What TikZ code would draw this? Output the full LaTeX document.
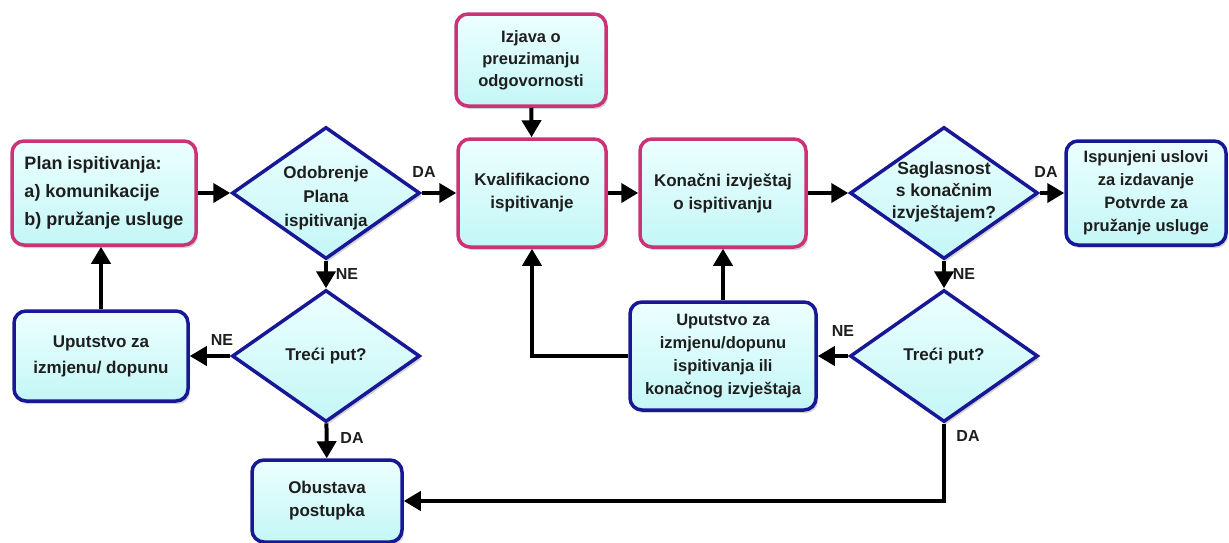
\documentclass[tikz,border=0pt]{standalone}
\usepackage{fontspec}
\setmainfont{Liberation Sans}
\usepackage{tikz}
\usetikzlibrary{shapes.geometric,arrows.meta,shadows}

\definecolor{boxtop}{RGB}{236,255,255}
\definecolor{boxbot}{RGB}{196,246,246}
\definecolor{boxpink}{RGB}{204,51,119}
\definecolor{boxblue}{RGB}{24,24,150}
\definecolor{txt}{RGB}{30,30,30}

% tekst u rombu ne smije uvecati romb
\newcommand{\dtext}[2][0pt]{\smash{\makebox[0pt]{\raisebox{#1}{\begin{tabular}{@{}c@{}}#2\end{tabular}}}}}

\tikzset{
  box/.style={rectangle,rounded corners=12pt,line width=3.5pt,top color=boxtop,bottom color=boxbot,
    drop shadow={shadow xshift=2pt,shadow yshift=-3pt,opacity=.35},
    align=center,text=txt,font=\bfseries\fontsize{17}{23}\selectfont},
  pinkbox/.style={box,draw=boxpink},
  bluebox/.style={box,draw=boxblue},
  decision/.style={diamond,draw=boxblue,line width=3.5pt,top color=boxtop,bottom color=boxbot,
    drop shadow={shadow xshift=2pt,shadow yshift=-3pt,opacity=.35},
    minimum width=188pt,minimum height=132pt,inner sep=0pt,
    text=txt,font=\bfseries\fontsize{17}{24}\selectfont},
  link/.style={line width=4pt,-{Triangle[length=17pt,width=19pt]}},
  lbl/.style={text=txt,font=\bfseries\fontsize{16}{16}\selectfont,inner sep=0pt}
}

\begin{document}
\begin{tikzpicture}[x=1pt,y=-1pt]
\useasboundingbox (0,0) rectangle (1229,542);

% gornji red
\node [pinkbox,minimum width=184pt,minimum height=104pt,align=left,font=\bfseries\fontsize{18}{23}\selectfont] (plan) at(104,193)
  {Plan ispitivanja:\\[5pt]a) komunikacije\\[5pt]b) pružanje usluge};
\node [decision] (odobrenje) at(326,193) {\dtext[-9pt]{Odobrenje\\Plana\\ispitivanja}};
\node [pinkbox,minimum width=150pt,minimum height=92pt,font=\bfseries\fontsize{16.5}{22}\selectfont] (izjava) at(531,60)
  {Izjava o\\preuzimanju\\odgovornosti};
\node [pinkbox,minimum width=148pt,minimum height=108pt] (kvalif) at(532,193)
  {Kvalifikaciono\\ispitivanje};
\node [pinkbox,minimum width=166pt,minimum height=108pt] (konacni) at(723,193)
  {Konačni izvještaj\\o ispitivanju};
\node [decision,font=\bfseries\fontsize{17.5}{22}\selectfont] (saglasnost) at(944,193)
  {\dtext[-3pt]{Saglasnost\\s konačnim\\izvještajem?}};
\node [bluebox,minimum width=160pt,minimum height=104pt,font=\bfseries\fontsize{16.5}{23}\selectfont] (ispunjeni) at(1146,193)
  {Ispunjeni uslovi\\za izdavanje\\Potvrde za\\pružanje usluge};

% donji red
\node [bluebox,minimum width=174pt,minimum height=90pt,font=\bfseries\fontsize{17}{26}\selectfont] (uputL) at(101,356)
  {Uputstvo za\\izmjenu/ dopunu};
\node [decision] (treciL) at(326,356) {\dtext[-4pt]{Treći put?}};
\node [bluebox,minimum width=150pt,minimum height=82pt] (obustava) at(327,501)
  {Obustava\\postupka};
\node [bluebox,minimum width=186pt,minimum height=108pt,font=\bfseries\fontsize{16.5}{23}\selectfont] (uputR) at(723,356)
  {Uputstvo za\\izmjenu/dopunu\\ispitivanja ili\\konačnog izvještaja};
\node [decision] (treciR) at(944,356) {\dtext[-4pt]{Treći put?}};

% veze
\draw [link] (plan) -- (odobrenje);
\draw [link] (odobrenje) -- (kvalif);
\draw [link] (izjava) -- (kvalif);
\draw [link] (kvalif) -- (konacni);
\draw [link] (konacni) -- (saglasnost);
\draw [link] (saglasnost) -- (ispunjeni);
\draw [link] (odobrenje) -- (treciL);
\draw [link] (treciL) -- (uputL);
\draw [link] (uputL.north) -- (plan.south -| uputL.north);
\draw [link] (treciL) -- (obustava);
\draw [link] (saglasnost) -- (treciR);
\draw [link] (treciR) -- (uputR);
\draw [link] (uputR.west) -| (kvalif.south);
\draw [link] (uputR) -- (konacni);
\draw [link] (treciR.south) |- (obustava.east);

% oznake
\node [lbl] (da1) at(424,172) {DA};
\node [lbl] (da2) at(1046,172) {DA};
\node [lbl] (ne1) at(347,274) {NE};
\node [lbl] (ne2) at(222,340) {NE};
\node [lbl] (da3) at(352,438) {DA};
\node [lbl] (ne3) at(964,274) {NE};
\node [lbl] (ne4) at(843,331) {NE};
\node [lbl] (da4) at(968,436) {DA};
\end{tikzpicture}
\end{document}
